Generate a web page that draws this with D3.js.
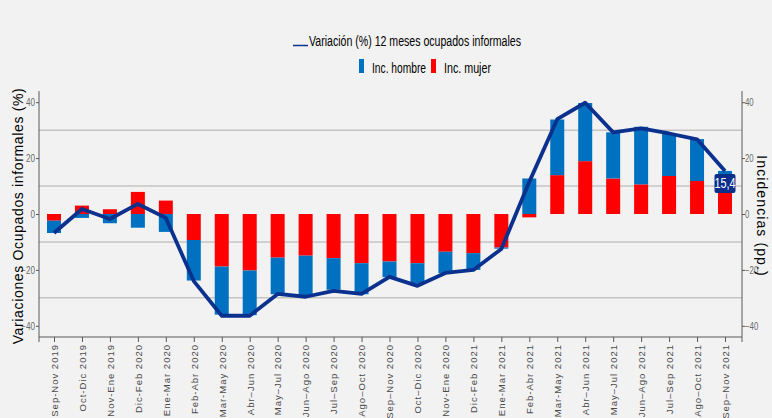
<!DOCTYPE html>
<html><head><meta charset="utf-8">
<script src="https://cdn.jsdelivr.net/npm/d3@7"></script>
<style>
html,body{margin:0;padding:0;background:#F2F2F2;}
svg{display:block;}
</style></head>
<body><svg id="c" width="772" height="418"></svg>
<script>
const categories = ["Sep-Nov 2019","Oct-Dic 2019","Nov-Ene 2019","Dic-Feb 2020","Ene-Mar 2020","Feb-Abr 2020","Mar-May 2020","Abr–Jun 2020","May–Jul 2020","Jun–Ago 2020","Jul–Sep 2020","Ago–Oct 2020","Sep–Nov 2020","Oct–Dic 2020","Nov-Ene 2020","Dic-Feb 2021","Ene-Mar 2021","Feb-Abr 2021","Mar-May 2021","Abr–Jun 2021","May–Jul 2021","Jun–Ago 2021","Jul–Sep 2021","Ago–Oct 2021","Sep–Nov 2021"];
const variacion = [-6.8, 1.8, -1.8, 3.6, -1.4, -24.0, -36.4, -36.4, -28.6, -29.6, -27.5, -28.6, -22.5, -25.7, -21.1, -20.0, -12.5, 11.5, 33.9, 39.8, 29.2, 30.6, 28.8, 26.7, 15.4];
const incHombre = [-4.4, -1.4, -3.3, -4.9, -6.4, -14.5, -17.2, -16.0, -13.1, -14.6, -11.3, -11.1, -5.6, -7.4, -7.7, -6.0, -0.4, 12.7, 19.9, 20.8, 16.5, 20.6, 15.3, 15.0, 7.8];
const incMujer = [-2.4, 3.0, 1.7, 7.9, 4.8, -9.3, -18.8, -20.2, -15.6, -14.9, -15.8, -17.6, -17.0, -17.6, -13.5, -14.0, -12.0, -1.2, 13.9, 18.9, 12.7, 10.6, 13.6, 11.8, 7.6];
const yTicks = [-40, -20, 0, 20, 40];
const gridValues = [30, 10, -10, -30];
const lastLabel = "15,4";

const svg = d3.select("#c");
const regular = "'Liberation Sans',Arial,sans-serif";
const C_BLUE = "#0070C0", C_RED = "#FF0000", C_LINE = "#0B318F";
const NARROW = 0.82;

const L = 39, R = 742, T = 91, B = 337;
const x = d3.scalePoint().domain(categories).range([54, 725]);
const y = d3.scaleLinear().domain([-44, 44]).range([B, T]);
const barW = 14;

// gridlines
svg.append("g").selectAll("line").data(gridValues).join("line")
  .attr("x1", L).attr("x2", R).attr("y1", d => y(d)).attr("y2", d => y(d))
  .attr("stroke", "#C4C4C4").attr("stroke-width", 1.5);

// stacked bars
const rows = categories.map((c, i) => ({cat: c, mujer: incMujer[i], hombre: incHombre[i]}));
const stack = d3.stack().keys(["mujer", "hombre"]).offset(d3.stackOffsetDiverging);
const series = stack(rows);
const colors = {mujer: C_RED, hombre: C_BLUE};
svg.append("g").selectAll("g").data(series).join("g")
  .attr("fill", d => colors[d.key])
  .selectAll("rect").data(d => d).join("rect")
  .attr("x", d => x(d.data.cat) - barW / 2)
  .attr("width", barW)
  .attr("y", d => y(Math.max(d[0], d[1])))
  .attr("height", d => Math.abs(y(d[0]) - y(d[1])));

// axes
const axisColor = "#595959";
const gL = svg.append("g").attr("transform", `translate(${L},0)`)
  .call(d3.axisLeft(y).tickValues(yTicks).tickSize(3).tickFormat(d3.format("d")));
const gR = svg.append("g").attr("transform", `translate(${R},0)`)
  .call(d3.axisRight(y).tickValues(yTicks).tickSize(3).tickFormat(d3.format("d")));
const gB = svg.append("g").attr("transform", `translate(0,${B})`)
  .call(d3.axisBottom(x).tickSize(5).tickSizeOuter(0));
[gL, gR].forEach(g => {
  g.select(".domain").attr("d", `M0,${T}V${B + 5}`).attr("stroke", axisColor);
  g.selectAll(".tick line").attr("stroke", axisColor);
  g.selectAll(".tick text").attr("font-family", regular).attr("font-size", 10).attr("fill", "#6A6A6A")
    .attr("x", 0);
});
gL.selectAll(".tick text").attr("transform", `translate(-4,0) scale(${NARROW},1)`);
gR.selectAll(".tick text").attr("transform", `translate(3,0) scale(0.78,1)`);
gB.select(".domain").attr("d", `M${L},0H${R}`).attr("stroke", axisColor);
gB.selectAll(".tick line").attr("stroke", axisColor);
gB.selectAll(".tick text")
  .attr("font-family", regular).attr("font-size", 9.5).attr("letter-spacing", "1px")
  .attr("fill", "#4A4A4A")
  .attr("transform", "rotate(-90)")
  .attr("text-anchor", "end")
  .attr("x", -7).attr("y", 0).attr("dy", "0.35em");

// line
const line = d3.line().x((d, i) => x(categories[i])).y(d => y(d));
svg.append("path").datum(variacion)
  .attr("d", line).attr("fill", "none")
  .attr("stroke", C_LINE).attr("stroke-width", 3.8).attr("stroke-linejoin", "round");

// last value label
const lx = x(categories[categories.length - 1]), ly = y(variacion[variacion.length - 1]);
svg.append("rect").attr("x", lx - 10.5).attr("y", ly + 3).attr("width", 21).attr("height", 19)
  .attr("rx", 2).attr("fill", "#0A2F8A");
svg.append("text").attr("transform", `translate(${lx},${ly + 17.5}) scale(0.78,1)`)
  .attr("text-anchor", "middle")
  .attr("font-family", regular).attr("font-size", 14).attr("fill", "#FFFFFF").text(lastLabel);

// axis titles
svg.append("text").attr("transform", `translate(23,216) rotate(-90)`).attr("text-anchor", "middle")
  .attr("font-family", regular).attr("font-size", 14).attr("letter-spacing", "0.65px")
  .attr("fill", "#000").text("Variaciones Ocupados informales (%)");
svg.append("text").attr("transform", `translate(757,216) rotate(90)`).attr("text-anchor", "middle")
  .attr("font-family", regular).attr("font-size", 14).attr("letter-spacing", "1.1px")
  .attr("fill", "#000").text("Incidencias (pp.)");

// legend
const lg = svg.append("g");
lg.append("line").attr("x1", 293).attr("x2", 308).attr("y1", 45.5).attr("y2", 45.5)
  .attr("stroke", C_LINE).attr("stroke-width", 1.5);
const legText = (tx, ty, txt, w) => lg.append("text").attr("x", tx).attr("y", ty)
  .attr("font-family", regular).attr("font-size", 14).attr("fill", "#000")
  .attr("textLength", w).attr("lengthAdjust", "spacingAndGlyphs").text(txt);
legText(309, 45.5, "Variación (%) 12 meses ocupados informales", 212);
lg.append("rect").attr("x", 359).attr("y", 59).attr("width", 5).attr("height", 14).attr("fill", C_BLUE);
legText(372, 73, "Inc. hombre", 54);
lg.append("rect").attr("x", 431).attr("y", 59).attr("width", 5).attr("height", 14).attr("fill", C_RED);
legText(444, 73, "Inc. mujer", 47);
</script></body></html>
